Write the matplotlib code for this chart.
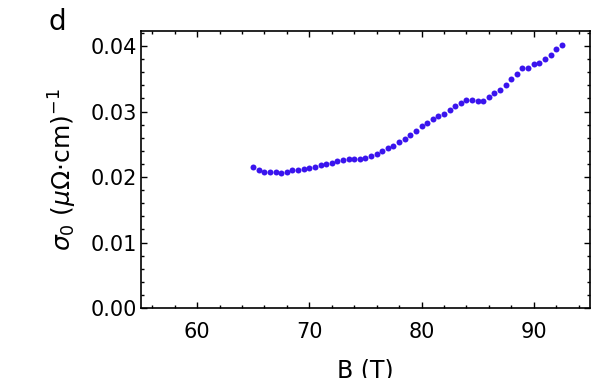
import numpy as np
import matplotlib.pyplot as plt
from matplotlib.ticker import MultipleLocator

plt.rcParams['font.family'] = ['DejaVu Sans']
plt.rcParams['mathtext.fontset'] = 'dejavusans'

# field values (T) and conductivity (muOhm cm)^-1
field = np.arange(65.0, 92.51, 0.5)
sigma0 = [0.02148, 0.02102, 0.02081, 0.02081, 0.02081, 0.02066, 0.02081, 0.02102,
          0.02102, 0.02117, 0.02133, 0.02148, 0.02178, 0.02193, 0.02209, 0.02239,
          0.02254, 0.02270, 0.02270, 0.02270, 0.02285, 0.02315, 0.02346, 0.02391,
          0.02437, 0.02468, 0.02529, 0.02574, 0.02635, 0.02696, 0.02772, 0.02833,
          0.02879, 0.02925, 0.02970, 0.03031, 0.03092, 0.03138, 0.03184, 0.03184,
          0.03168, 0.03168, 0.03229, 0.03290, 0.03336, 0.03412, 0.03503, 0.03580,
          0.03671, 0.03671, 0.03732, 0.03747, 0.03808, 0.03869, 0.03960, 0.04021]

fig = plt.figure(figsize=(6, 3.78), dpi=100)
ax = fig.add_axes([0.235, 0.185, 0.748, 0.733])

ax.plot(field, sigma0, 'o', color='#3a14ee', markersize=4.3, markeredgewidth=0)

ax.set_xlim(55, 95)
ax.set_ylim(0, 0.0423)
ax.xaxis.set_major_locator(MultipleLocator(10))
ax.xaxis.set_minor_locator(MultipleLocator(2))
ax.yaxis.set_major_locator(MultipleLocator(0.01))
ax.yaxis.set_minor_locator(MultipleLocator(0.002))
ax.yaxis.set_major_formatter(plt.FormatStrFormatter('%.2f'))

ax.tick_params(which='both', direction='in', top=True, right=True, labelsize=15, width=1)
ax.tick_params(which='major', length=4.5)
ax.tick_params(which='minor', length=2.5)
ax.tick_params(axis='y', which='major', pad=3)
ax.tick_params(axis='x', which='major', pad=10)
for s in ax.spines.values():
    s.set_linewidth(1.2)

ax.set_xlabel('B (T)', fontsize=17, labelpad=12)
ax.set_ylabel(r'$\sigma_0$ ($\mu\Omega{\cdot}$cm)$^{-1}$', fontsize=18, labelpad=8)
fig.text(0.08, 0.92, 'd', fontsize=20)

fig.savefig('out.png', dpi=100)
